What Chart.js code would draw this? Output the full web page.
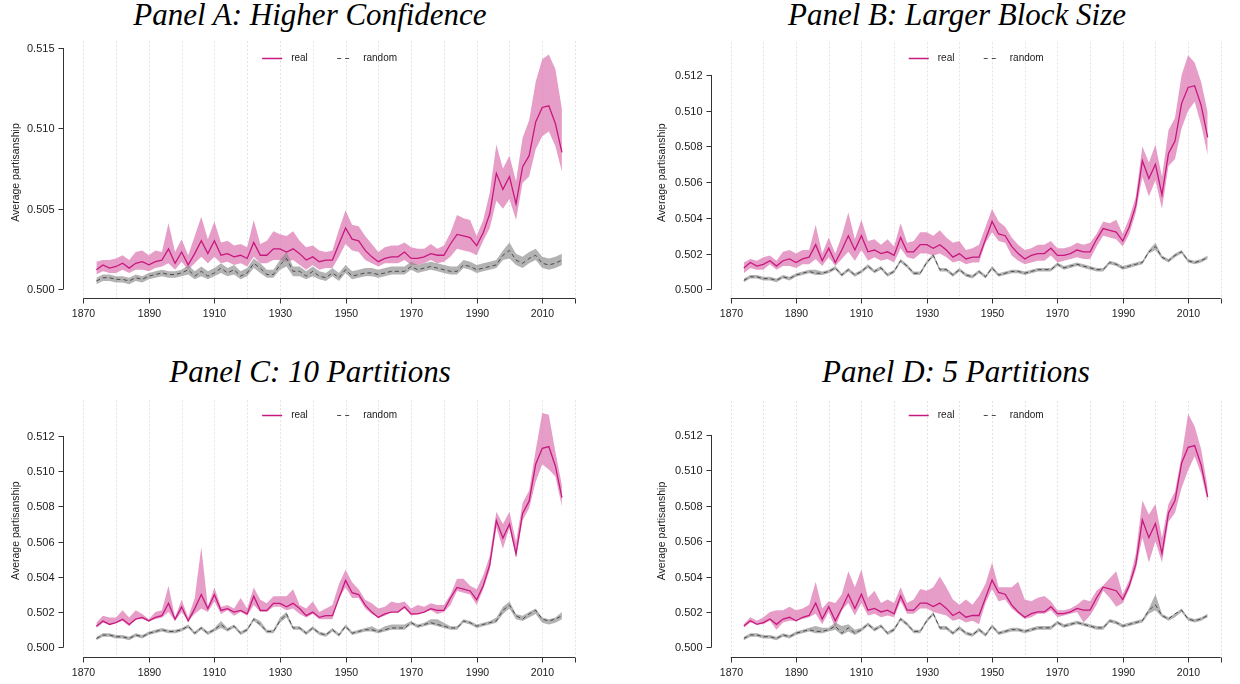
<!DOCTYPE html>
<html>
<head>
<meta charset="utf-8">
<script src="https://cdn.jsdelivr.net/npm/chart.js@4.4.1/dist/chart.umd.min.js"></script>
<style>
  body { margin: 0; background: #fff; width: 1240px; height: 684px; position: relative; overflow: hidden; }
  canvas { position: absolute; }
  .title { position: absolute; font: italic 31px "Liberation Serif", serif; line-height: 31px;
           white-space: nowrap; transform: translateX(-50%); color: #000; }
</style>
</head>
<body>
<div class="title" style="left:310px;top:-1px">Panel A: Higher Confidence</div>
<div class="title" style="left:957px;top:-1px">Panel B: Larger Block Size</div>
<div class="title" style="left:310px;top:356px">Panel C: 10 Partitions</div>
<div class="title" style="left:956px;top:356px">Panel D: 5 Partitions</div>
<canvas id="cA" width="620" height="357" style="left:0;top:0"></canvas>
<canvas id="cB" width="620" height="357" style="left:620px;top:0"></canvas>
<canvas id="cC" width="620" height="327" style="left:0;top:357px"></canvas>
<canvas id="cD" width="620" height="327" style="left:620px;top:357px"></canvas>
<script>
// congress years (every 2 years)
const years = [1874,1876,1878,1880,1882,1884,1886,1888,1890,1892,1894,1896,1898,1900,
  1902,1904,1906,1908,1910,1912,1914,1916,1918,1920,1922,1924,1926,1928,1930,1932,1934,1936,1938,1940,1942,1944,1946,1948,1950,
  1952,1954,1956,1958,1960,1962,1964,1966,1968,1970,1972,1974,1976,1978,1980,1982,1984,1986,1988,1990,1992,1994,1996,1998,2000,
  2002,2004,2006,2008,2010,2012,2014,2016];

// point estimates (same in every panel)
const realMean = [0.5012,0.5015,0.5013,0.5014,0.5016,0.5013,0.5016,0.5017,0.5015,0.5017,0.5018,0.5025,0.5016,0.5023,
  0.5015,0.5022,0.5030,0.5022,0.5030,0.5021,0.5022,0.5020,0.5021,0.5019,0.5029,0.5021,0.5021,0.5025,0.5025,0.5023,0.5025,0.5022,0.5018,0.5020,0.5017,0.5018,0.5018,0.5028,0.5038,
  0.5031,0.5030,0.5024,0.5020,0.5017,0.5019,0.5020,0.5020,0.5023,0.5019,0.5019,0.5020,0.5022,0.5021,0.5021,0.5028,0.5034,0.5033,0.5032,0.5027,0.5035,0.5047,0.5072,0.5062,0.5070,
  0.5053,0.5076,0.5083,0.5104,0.5113,0.5114,0.5103,0.5085];
const randMean = [0.5005,0.5007,0.5007,0.5006,0.5006,0.5005,0.5007,0.5006,0.5008,0.5009,0.5010,0.5009,0.5009,0.5010,
  0.5012,0.5008,0.5011,0.5008,0.5010,0.5013,0.5010,0.5012,0.5008,0.5010,0.5016,0.5013,0.5009,0.5009,0.5015,0.5019,0.5011,0.5011,0.5008,0.5011,0.5008,0.5007,0.5010,0.5007,0.5012,
  0.5008,0.5009,0.5010,0.5010,0.5009,0.5010,0.5011,0.5011,0.5011,0.5014,0.5012,0.5013,0.5014,0.5013,0.5012,0.5011,0.5011,0.5015,0.5014,0.5012,0.5013,0.5014,0.5015,0.5021,0.5024,
  0.5018,0.5016,0.5019,0.5021,0.5016,0.5015,0.5016,0.5018];

// Panel A: higher confidence
const realHiA = [0.5017,0.5018,0.5018,0.5019,0.5021,0.5018,0.5023,0.5024,0.5021,0.5024,0.5023,0.5041,0.5023,0.5031,
  0.5021,0.5033,0.5045,0.5031,0.5042,0.5029,0.5030,0.5027,0.5028,0.5026,0.5043,0.5028,0.5030,0.5036,0.5034,0.5033,0.5036,0.5030,0.5026,0.5027,0.5024,0.5023,0.5024,0.5037,0.5049,
  0.5040,0.5039,0.5033,0.5028,0.5023,0.5026,0.5027,0.5027,0.5029,0.5026,0.5025,0.5025,0.5028,0.5025,0.5027,0.5035,0.5046,0.5044,0.5043,0.5033,0.5043,0.5060,0.5090,0.5075,0.5083,
  0.5067,0.5094,0.5105,0.5129,0.5143,0.5146,0.5137,0.5112];
const realLoA = [0.5009,0.5011,0.5010,0.5010,0.5012,0.5010,0.5012,0.5012,0.5011,0.5013,0.5014,0.5016,0.5012,0.5017,
  0.5012,0.5016,0.5020,0.5016,0.5020,0.5016,0.5017,0.5015,0.5016,0.5014,0.5020,0.5016,0.5016,0.5018,0.5018,0.5017,0.5018,0.5015,0.5012,0.5015,0.5012,0.5013,0.5013,0.5020,0.5028,
  0.5024,0.5023,0.5018,0.5016,0.5014,0.5016,0.5016,0.5016,0.5018,0.5015,0.5015,0.5016,0.5018,0.5016,0.5017,0.5020,0.5025,0.5024,0.5023,0.5021,0.5030,0.5038,0.5055,0.5050,0.5056,
  0.5043,0.5066,0.5070,0.5087,0.5095,0.5098,0.5089,0.5073];
const randHiA = [0.5007,0.5009,0.5009,0.5008,0.5008,0.5007,0.5009,0.5008,0.5010,0.5011,0.5012,0.5011,0.5011,0.5012,
  0.5015,0.5011,0.5014,0.5011,0.5013,0.5016,0.5013,0.5015,0.5011,0.5013,0.5019,0.5016,0.5012,0.5012,0.5018,0.5023,0.5014,0.5014,0.5011,0.5014,0.5011,0.5010,0.5013,0.5010,0.5015,
  0.5011,0.5012,0.5013,0.5013,0.5012,0.5013,0.5014,0.5014,0.5014,0.5017,0.5015,0.5016,0.5017,0.5016,0.5015,0.5014,0.5014,0.5018,0.5017,0.5015,0.5016,0.5017,0.5018,0.5024,0.5029,
  0.5022,0.5020,0.5023,0.5025,0.5020,0.5019,0.5020,0.5022];
const randLoA = [0.5003,0.5005,0.5005,0.5004,0.5004,0.5003,0.5005,0.5004,0.5006,0.5007,0.5008,0.5007,0.5007,0.5008,
  0.5009,0.5006,0.5008,0.5006,0.5008,0.5010,0.5008,0.5009,0.5006,0.5008,0.5013,0.5010,0.5007,0.5007,0.5012,0.5014,0.5008,0.5008,0.5006,0.5008,0.5006,0.5005,0.5008,0.5005,0.5010,
  0.5006,0.5007,0.5008,0.5008,0.5007,0.5008,0.5009,0.5009,0.5009,0.5012,0.5010,0.5011,0.5012,0.5011,0.5010,0.5009,0.5009,0.5013,0.5012,0.5010,0.5011,0.5012,0.5013,0.5018,0.5019,
  0.5015,0.5013,0.5016,0.5018,0.5013,0.5012,0.5013,0.5015];

// Panel B: larger block size
const realHiB = [0.5015,0.5017,0.5016,0.5018,0.5019,0.5016,0.5021,0.5022,0.5020,0.5022,0.5022,0.5036,0.5020,0.5029,
  0.5020,0.5030,0.5043,0.5028,0.5039,0.5027,0.5028,0.5025,0.5028,0.5024,0.5037,0.5026,0.5027,0.5032,0.5032,0.5030,0.5033,0.5029,0.5026,0.5027,0.5022,0.5023,0.5025,0.5035,0.5045,
  0.5038,0.5035,0.5029,0.5025,0.5022,0.5023,0.5025,0.5025,0.5027,0.5023,0.5023,0.5024,0.5026,0.5025,0.5026,0.5031,0.5038,0.5037,0.5039,0.5031,0.5040,0.5052,0.5080,0.5071,0.5081,
  0.5063,0.5089,0.5096,0.5120,0.5131,0.5127,0.5116,0.5099];
const realLoB = [0.5009,0.5012,0.5011,0.5011,0.5014,0.5011,0.5013,0.5013,0.5012,0.5014,0.5014,0.5017,0.5013,0.5018,
  0.5013,0.5017,0.5021,0.5016,0.5022,0.5016,0.5018,0.5016,0.5017,0.5015,0.5023,0.5018,0.5017,0.5020,0.5020,0.5019,0.5020,0.5018,0.5015,0.5016,0.5014,0.5015,0.5015,0.5026,0.5032,
  0.5027,0.5026,0.5019,0.5016,0.5014,0.5015,0.5016,0.5016,0.5019,0.5015,0.5016,0.5017,0.5018,0.5017,0.5017,0.5024,0.5030,0.5029,0.5028,0.5024,0.5031,0.5043,0.5063,0.5052,0.5061,
  0.5045,0.5069,0.5073,0.5090,0.5100,0.5105,0.5092,0.5075];
const randHiB = [0.5006,0.5008,0.5008,0.5007,0.5007,0.5006,0.5008,0.5007,0.5009,0.5010,0.5011,0.5011,0.5010,0.5011,
  0.5013,0.5009,0.5012,0.5009,0.5011,0.5014,0.5011,0.5013,0.5009,0.5011,0.5017,0.5014,0.5010,0.5010,0.5016,0.5020,0.5012,0.5012,0.5009,0.5012,0.5009,0.5008,0.5011,0.5008,0.5013,
  0.5009,0.5010,0.5011,0.5011,0.5010,0.5011,0.5012,0.5012,0.5012,0.5015,0.5013,0.5014,0.5015,0.5014,0.5013,0.5012,0.5012,0.5016,0.5015,0.5013,0.5014,0.5015,0.5016,0.5022,0.5026,
  0.5019,0.5017,0.5020,0.5022,0.5017,0.5016,0.5017,0.5019];
const randLoB = [0.5004,0.5006,0.5006,0.5005,0.5005,0.5004,0.5006,0.5005,0.5007,0.5008,0.5009,0.5008,0.5008,0.5009,
  0.5011,0.5007,0.5010,0.5007,0.5009,0.5012,0.5009,0.5011,0.5007,0.5009,0.5015,0.5012,0.5008,0.5008,0.5014,0.5018,0.5010,0.5010,0.5007,0.5010,0.5007,0.5006,0.5009,0.5006,0.5011,
  0.5007,0.5008,0.5009,0.5009,0.5008,0.5009,0.5010,0.5010,0.5010,0.5013,0.5011,0.5012,0.5013,0.5012,0.5011,0.5010,0.5010,0.5014,0.5013,0.5011,0.5012,0.5013,0.5014,0.5020,0.5022,
  0.5017,0.5015,0.5018,0.5020,0.5015,0.5014,0.5015,0.5017];

// Panel C: 10 partitions
const realHiC = [0.5014,0.5018,0.5017,0.5017,0.5021,0.5017,0.5021,0.5019,0.5016,0.5020,0.5021,0.5035,0.5017,0.5027,
  0.5017,0.5028,0.5057,0.5023,0.5034,0.5023,0.5024,0.5022,0.5028,0.5022,0.5034,0.5027,0.5025,0.5029,0.5029,0.5029,0.5033,0.5024,0.5022,0.5026,0.5020,0.5022,0.5024,0.5036,0.5044,
  0.5037,0.5033,0.5027,0.5025,0.5022,0.5023,0.5026,0.5025,0.5026,0.5022,0.5024,0.5023,0.5025,0.5024,0.5024,0.5030,0.5039,0.5039,0.5035,0.5033,0.5041,0.5052,0.5077,0.5070,0.5077,
  0.5060,0.5082,0.5089,0.5112,0.5133,0.5132,0.5111,0.5092];
const realLoC = [0.5011,0.5014,0.5013,0.5014,0.5015,0.5012,0.5016,0.5016,0.5015,0.5016,0.5017,0.5020,0.5015,0.5020,
  0.5015,0.5019,0.5022,0.5020,0.5026,0.5019,0.5021,0.5018,0.5020,0.5018,0.5024,0.5020,0.5020,0.5023,0.5023,0.5021,0.5022,0.5019,0.5017,0.5019,0.5016,0.5016,0.5016,0.5028,0.5034,
  0.5028,0.5028,0.5022,0.5019,0.5017,0.5018,0.5020,0.5020,0.5022,0.5018,0.5019,0.5020,0.5021,0.5019,0.5020,0.5024,0.5032,0.5031,0.5030,0.5024,0.5033,0.5044,0.5068,0.5056,0.5068,
  0.5051,0.5072,0.5079,0.5094,0.5104,0.5101,0.5097,0.5080];
const randHiC = [0.5006,0.5008,0.5008,0.5007,0.5007,0.5006,0.5008,0.5007,0.5009,0.5010,0.5011,0.5010,0.5010,0.5011,
  0.5013,0.5009,0.5012,0.5009,0.5011,0.5015,0.5011,0.5013,0.5009,0.5011,0.5017,0.5015,0.5010,0.5010,0.5017,0.5020,0.5012,0.5012,0.5009,0.5012,0.5009,0.5008,0.5011,0.5008,0.5013,
  0.5009,0.5010,0.5011,0.5012,0.5010,0.5012,0.5013,0.5013,0.5013,0.5015,0.5013,0.5014,0.5016,0.5016,0.5014,0.5012,0.5012,0.5016,0.5015,0.5013,0.5014,0.5015,0.5017,0.5023,0.5026,
  0.5019,0.5018,0.5020,0.5022,0.5017,0.5016,0.5017,0.5020];
const randLoC = [0.5004,0.5006,0.5006,0.5005,0.5005,0.5004,0.5006,0.5005,0.5007,0.5008,0.5009,0.5008,0.5008,0.5009,
  0.5011,0.5007,0.5010,0.5007,0.5009,0.5011,0.5009,0.5011,0.5007,0.5009,0.5015,0.5012,0.5008,0.5008,0.5014,0.5017,0.5010,0.5010,0.5007,0.5010,0.5007,0.5006,0.5009,0.5006,0.5011,
  0.5007,0.5008,0.5009,0.5009,0.5008,0.5009,0.5010,0.5010,0.5010,0.5013,0.5011,0.5012,0.5013,0.5012,0.5011,0.5010,0.5010,0.5014,0.5013,0.5011,0.5012,0.5013,0.5014,0.5019,0.5022,
  0.5016,0.5015,0.5017,0.5019,0.5014,0.5013,0.5014,0.5016];

// Panel D: 5 partitions
const realHiD = [0.5013,0.5017,0.5015,0.5017,0.5020,0.5021,0.5021,0.5023,0.5021,0.5022,0.5024,0.5037,0.5022,0.5026,
  0.5025,0.5030,0.5043,0.5034,0.5044,0.5028,0.5032,0.5025,0.5027,0.5025,0.5034,0.5025,0.5027,0.5033,0.5032,0.5034,0.5040,0.5034,0.5027,0.5024,0.5027,0.5024,0.5029,0.5036,0.5048,
  0.5034,0.5034,0.5034,0.5037,0.5027,0.5026,0.5028,0.5029,0.5026,0.5021,0.5021,0.5022,0.5024,0.5027,0.5026,0.5032,0.5035,0.5039,0.5043,0.5030,0.5038,0.5053,0.5083,0.5075,0.5081,
  0.5062,0.5081,0.5088,0.5108,0.5132,0.5125,0.5112,0.5090];
const realLoD = [0.5011,0.5014,0.5013,0.5013,0.5015,0.5010,0.5014,0.5015,0.5015,0.5016,0.5017,0.5019,0.5013,0.5020,
  0.5011,0.5021,0.5025,0.5018,0.5025,0.5018,0.5019,0.5017,0.5018,0.5017,0.5026,0.5019,0.5019,0.5022,0.5022,0.5020,0.5019,0.5018,0.5015,0.5016,0.5014,0.5015,0.5013,0.5025,0.5033,
  0.5026,0.5027,0.5022,0.5019,0.5016,0.5017,0.5019,0.5019,0.5021,0.5017,0.5018,0.5019,0.5020,0.5014,0.5018,0.5024,0.5032,0.5028,0.5023,0.5025,0.5033,0.5044,0.5062,0.5048,0.5060,
  0.5048,0.5071,0.5076,0.5090,0.5100,0.5108,0.5098,0.5082];
const randHiD = [0.5006,0.5008,0.5008,0.5007,0.5007,0.5006,0.5008,0.5007,0.5009,0.5010,0.5011,0.5012,0.5011,0.5011,
  0.5014,0.5012,0.5013,0.5010,0.5011,0.5014,0.5011,0.5013,0.5009,0.5011,0.5017,0.5014,0.5010,0.5010,0.5016,0.5020,0.5012,0.5012,0.5009,0.5012,0.5009,0.5008,0.5011,0.5008,0.5013,
  0.5009,0.5010,0.5011,0.5011,0.5010,0.5011,0.5012,0.5012,0.5012,0.5015,0.5013,0.5014,0.5015,0.5014,0.5013,0.5012,0.5012,0.5016,0.5015,0.5013,0.5014,0.5015,0.5016,0.5022,0.5030,
  0.5019,0.5017,0.5019,0.5022,0.5017,0.5016,0.5017,0.5019];
const randLoD = [0.5004,0.5006,0.5006,0.5005,0.5005,0.5004,0.5006,0.5005,0.5007,0.5008,0.5009,0.5008,0.5008,0.5009,
  0.5010,0.5007,0.5009,0.5007,0.5009,0.5012,0.5009,0.5011,0.5007,0.5009,0.5015,0.5012,0.5008,0.5008,0.5014,0.5018,0.5010,0.5010,0.5007,0.5010,0.5007,0.5006,0.5009,0.5006,0.5011,
  0.5007,0.5008,0.5009,0.5009,0.5008,0.5009,0.5010,0.5010,0.5010,0.5013,0.5011,0.5012,0.5013,0.5012,0.5011,0.5010,0.5010,0.5014,0.5013,0.5011,0.5012,0.5013,0.5014,0.5019,0.5021,
  0.5017,0.5015,0.5017,0.5020,0.5015,0.5014,0.5015,0.5017];

// axes
const xTickYears = [1870, 1890, 1910, 1930, 1950, 1970, 1990, 2010];
const gridYears = [1870, 1880, 1890, 1900, 1910, 1920, 1930, 1940, 1950, 1960, 1970, 1980, 1990, 2000, 2010, 2020];
const yTicksA = [0.500, 0.505, 0.510, 0.515];
const yTicksBCD = [0.500, 0.502, 0.504, 0.506, 0.508, 0.510, 0.512];
const legendLabels = ["real", "random"];
const yTitle = "Average partisanship";

const REAL = "#c8187e";
const REAL_BAND = "rgba(221,120,180,0.72)";
const RAND = "#4a4a4a";
const RAND_BAND = "rgba(140,140,140,0.66)";
const FONT = '"Liberation Sans", Arial, sans-serif';

// draws R-style axes, dotted grid and legend using the chart's scales
const rAxes = {
  id: "rAxes",
  beforeDatasetsDraw(chart, args, o) {
    const { ctx, chartArea } = chart;
    const sx = chart.scales.x;
    ctx.save();
    ctx.strokeStyle = "#e2e2e2";
    ctx.lineWidth = 1;
    ctx.setLineDash([2, 2]);
    gridYears.forEach((yr) => {
      const px = Math.round(sx.getPixelForValue(yr)) + 0.5;
      ctx.beginPath();
      ctx.moveTo(px, chartArea.top - 4);
      ctx.lineTo(px, o.xAxisY);
      ctx.stroke();
    });
    ctx.restore();
  },
  afterDraw(chart, args, o) {
    const { ctx, chartArea } = chart;
    const sx = chart.scales.x;
    const sy = chart.scales.y;
    ctx.save();
    ctx.strokeStyle = "#333";
    ctx.fillStyle = "#1a1a1a";
    ctx.lineWidth = 1;

    // x axis
    const ay = Math.round(o.xAxisY) + 0.5;
    const x0 = sx.getPixelForValue(gridYears[0]);
    const x1 = sx.getPixelForValue(gridYears[gridYears.length - 1]);
    ctx.beginPath();
    ctx.moveTo(x0, ay);
    ctx.lineTo(x1, ay);
    ctx.stroke();
    ctx.font = "10.5px " + FONT;
    ctx.textAlign = "center";
    ctx.textBaseline = "middle";
    xTickYears.concat([2020]).forEach((yr) => {
      const px = Math.round(sx.getPixelForValue(yr)) + 0.5;
      ctx.beginPath();
      ctx.moveTo(px, ay);
      ctx.lineTo(px, ay + 5);
      ctx.stroke();
      if (yr !== 2020) ctx.fillText(String(yr), px, ay + 16);
    });

    // y axis
    const ax = Math.round(o.yAxisX) + 0.5;
    const ticks = o.yTicks;
    ctx.beginPath();
    ctx.moveTo(ax, sy.getPixelForValue(ticks[0]));
    ctx.lineTo(ax, sy.getPixelForValue(ticks[ticks.length - 1]));
    ctx.stroke();
    ctx.font = "11px " + FONT;
    ctx.textAlign = "right";
    ticks.forEach((t) => {
      const py = Math.round(sy.getPixelForValue(t)) + 0.5;
      ctx.beginPath();
      ctx.moveTo(ax - 5, py);
      ctx.lineTo(ax, py);
      ctx.stroke();
      ctx.fillText(t.toFixed(3), ax - 9, py);
    });

    // y title
    ctx.save();
    ctx.font = "10.5px " + FONT;
    ctx.textAlign = "center";
    ctx.translate(o.titleX, (chartArea.top + chartArea.bottom) / 2 + 4);
    ctx.rotate(-Math.PI / 2);
    ctx.fillText(yTitle, 0, 0);
    ctx.restore();

    // legend
    const cx = (chartArea.left + chartArea.right) / 2;
    const ly = 58.5;
    ctx.font = "10px " + FONT;
    ctx.textAlign = "left";
    ctx.strokeStyle = REAL;
    ctx.lineWidth = 1.5;
    ctx.beginPath();
    ctx.moveTo(cx - 67, ly);
    ctx.lineTo(cx - 47, ly);
    ctx.stroke();
    ctx.fillText(legendLabels[0], cx - 38, ly);
    ctx.strokeStyle = RAND;
    ctx.lineWidth = 1;
    ctx.setLineDash([4, 4]);
    ctx.beginPath();
    ctx.moveTo(cx + 8, ly);
    ctx.lineTo(cx + 20, ly);
    ctx.stroke();
    ctx.setLineDash([]);
    ctx.fillText(legendLabels[1], cx + 34, ly);
    ctx.restore();
  },
};

function pts(arr) {
  return years.map((yr, i) => ({ x: yr, y: arr[i] }));
}

function makeChart(id, p) {
  const canvas = document.getElementById(id);
  const W = canvas.width, H = canvas.height;
  return new Chart(canvas.getContext("2d"), {
    type: "line",
    data: {
      datasets: [
        { data: pts(p.realHi), borderWidth: 0, backgroundColor: REAL_BAND, fill: "+1", order: 6 },
        { data: pts(p.realLo), borderWidth: 0, fill: false, order: 5 },
        { data: pts(p.randHi), borderWidth: 0, backgroundColor: RAND_BAND, fill: "+1", order: 4 },
        { data: pts(p.randLo), borderWidth: 0, fill: false, order: 3 },
        { data: pts(realMean), borderColor: REAL, borderWidth: 1.3, fill: false, order: 2 },
        { data: pts(randMean), borderColor: RAND, borderWidth: 1, borderDash: [4, 3], fill: false, order: 1 },
      ],
    },
    options: {
      responsive: false,
      animation: false,
      events: [],
      elements: { point: { radius: 0 }, line: { tension: 0 } },
      layout: { padding: { left: p.left, right: W - p.right, top: p.top, bottom: H - p.bottom } },
      scales: {
        x: { type: "linear", min: 1868, max: 2022, display: false },
        y: { type: "linear", min: p.yMin, max: p.yMax, display: false },
      },
      plugins: {
        legend: { display: false },
        tooltip: { enabled: false },
        rAxes: { xAxisY: p.xAxisY, yAxisX: p.yAxisX, yTicks: p.yTicks, titleX: p.titleX },
      },
    },
    plugins: [rAxes],
  });
}

makeChart("cA", { realHi: realHiA, realLo: realLoA, randHi: randHiA, randLo: randLoA,
  left: 76.7, right: 581.6, top: 44.8, bottom: 292.2, yMin: 0.4998, yMax: 0.5152,
  xAxisY: 298, yAxisX: 63, yTicks: yTicksA, titleX: 16 });
makeChart("cB", { realHi: realHiB, realLo: realLoB, randHi: randHiB, randLo: randLoB,
  left: 104.2, right: 607.3, top: 46.4, bottom: 291.1, yMin: 0.4999, yMax: 0.5136,
  xAxisY: 298, yAxisX: 90.5, yTicks: yTicksBCD, titleX: 42 });
makeChart("cC", { realHi: realHiC, realLo: realLoC, randHi: randHiC, randLo: randLoC,
  left: 76.7, right: 581.6, top: 47.3, bottom: 292.1, yMin: 0.4999, yMax: 0.5138,
  xAxisY: 299.5, yAxisX: 63, yTicks: yTicksBCD, titleX: 16 });
makeChart("cD", { realHi: realHiD, realLo: realLoD, randHi: randHiD, randLo: randLoD,
  left: 104.2, right: 607.3, top: 47.9, bottom: 292.1, yMin: 0.4999, yMax: 0.5137,
  xAxisY: 299.5, yAxisX: 90.5, yTicks: yTicksBCD, titleX: 42 });
</script>
</body>
</html>
